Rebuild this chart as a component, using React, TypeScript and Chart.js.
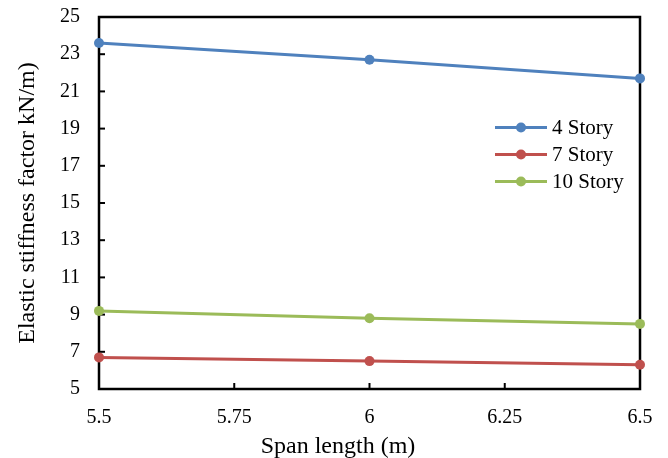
import React, { useEffect, useRef } from "react";
import { Chart, registerables } from "chart.js";

Chart.register(...registerables);

const xValues = [5.5, 6, 6.5];
const story4 = [23.6, 22.7, 21.7];
const story7 = [6.7, 6.5, 6.3];
const story10 = [9.2, 8.8, 8.5];
const seriesNames = ["4 Story", "7 Story", "10 Story"];
const seriesColors = ["#4F81BD", "#C0504D", "#9BBB59"];
const xTickValues = [5.5, 5.75, 6, 6.25, 6.5];
const yTickValues = [5, 7, 9, 11, 13, 15, 17, 19, 21, 23, 25];
const xTitle = "Span length (m)";
const yTitle = "Elastic stiffness factor kN/m)";

const FONT = "'Liberation Serif', 'DejaVu Serif', serif";

const frameAndLegend = {
  id: "frameAndLegend",
  beforeDatasetsDraw(chart: any) {
    const { ctx, chartArea, scales } = chart;
    const { left, right, top, bottom } = chartArea;
    ctx.save();
    ctx.strokeStyle = "#000";
    ctx.lineWidth = 2.5;
    ctx.strokeRect(left, top, right - left, bottom - top);
    ctx.lineWidth = 2;
    xTickValues.forEach((v) => {
      const px = scales.x.getPixelForValue(v);
      ctx.beginPath();
      ctx.moveTo(px, bottom);
      ctx.lineTo(px, bottom - 6);
      ctx.stroke();
    });
    yTickValues.forEach((v) => {
      const py = scales.y.getPixelForValue(v);
      ctx.beginPath();
      ctx.moveTo(left, py);
      ctx.lineTo(left + 6, py);
      ctx.stroke();
    });
    ctx.restore();
  },
  afterDraw(chart: any) {
    const { ctx } = chart;
    ctx.save();
    const x0 = 495;
    const x1 = 547;
    const tx = 552;
    const ys = [127.5, 154.5, 181.5];
    seriesNames.forEach((name, i) => {
      const y = ys[i];
      ctx.strokeStyle = seriesColors[i];
      ctx.lineWidth = 3;
      ctx.beginPath();
      ctx.moveTo(x0, y);
      ctx.lineTo(x1, y);
      ctx.stroke();
      ctx.fillStyle = seriesColors[i];
      ctx.beginPath();
      ctx.arc((x0 + x1) / 2, y, 5, 0, Math.PI * 2);
      ctx.fill();
      ctx.fillStyle = "#000";
      ctx.font = `21px ${FONT}`;
      ctx.textAlign = "left";
      ctx.textBaseline = "middle";
      ctx.fillText(name, tx, y + 1);
    });
    // x axis title, centred on the whole figure as in the reference
    ctx.fillStyle = "#000";
    ctx.font = `24px ${FONT}`;
    ctx.textAlign = "center";
    ctx.textBaseline = "alphabetic";
    ctx.fillText(xTitle, 338, 453);
    ctx.restore();
  },
};

export default function App() {
  const canvasRef = useRef<HTMLCanvasElement | null>(null);

  useEffect(() => {
    document.body.style.margin = "0";
    const canvas = canvasRef.current;
    if (!canvas) return;
    const series = [story4, story7, story10];
    const chart = new Chart(canvas, {
      type: "line",
      data: {
        datasets: series.map((vals, i) => ({
          label: seriesNames[i],
          data: vals.map((y, j) => ({ x: xValues[j], y })),
          borderColor: seriesColors[i],
          backgroundColor: seriesColors[i],
          pointBackgroundColor: seriesColors[i],
          pointBorderColor: seriesColors[i],
          borderWidth: 3,
          pointRadius: 5,
          pointBorderWidth: 0,
          tension: 0,
          clip: false,
        })),
      },
      options: {
        responsive: false,
        animation: false,
        events: [],
        layout: { padding: { top: 17, right: 28, left: 0, bottom: 0 } },
        plugins: {
          legend: { display: false },
          tooltip: { enabled: false },
        },
        scales: {
          x: {
            type: "linear",
            min: 5.5,
            max: 6.5,
            grid: { display: false, drawTicks: false },
            border: { display: false },
            afterBuildTicks: (scale: any) => {
              scale.ticks = xTickValues.map((v) => ({ value: v }));
            },
            afterFit: (scale: any) => {
              scale.height = 69;
              scale.paddingLeft = 0;
              scale.paddingRight = 0;
            },
            ticks: {
              color: "#000",
              font: { family: FONT, size: 20 },
              padding: 17,
              maxRotation: 0,
              autoSkip: false,
              callback: (v: any) => String(v),
            },
            title: { display: false },
          },
          y: {
            type: "linear",
            min: 5,
            max: 25,
            grid: { display: false, drawTicks: false },
            border: { display: false },
            afterBuildTicks: (scale: any) => {
              scale.ticks = yTickValues.map((v) => ({ value: v }));
            },
            afterFit: (scale: any) => {
              scale.width = 99;
              scale.paddingTop = 0;
              scale.paddingBottom = 0;
            },
            ticks: {
              color: "#000",
              font: { family: FONT, size: 20 },
              padding: 19,
              autoSkip: false,
              callback: (v: any) => String(v),
            },
            title: {
              display: true,
              text: yTitle,
              color: "#000",
              font: { family: FONT, size: 24, lineHeight: 1 },
              padding: { top: 16, bottom: 0 },
            },
          },
        },
      },
      plugins: [frameAndLegend],
    });
    return () => chart.destroy();
  }, []);

  return (
    <div style={{ width: 668, height: 458, background: "#fff" }}>
      <canvas ref={canvasRef} width={668} height={458} />
    </div>
  );
}
